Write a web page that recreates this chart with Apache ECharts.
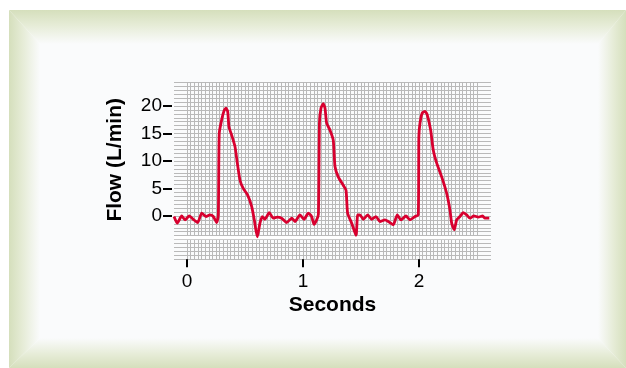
<!DOCTYPE html>
<html>
<head>
<meta charset="utf-8">
<script src="https://cdn.jsdelivr.net/npm/echarts@6/dist/echarts.min.js"></script>
<style>
    html, body { margin: 0; padding: 0; background: #ffffff; }
    #chart { width: 626px; height: 368px; }
</style>
</head>
<body>
<div id="chart"></div>
<script>
// time in seconds, flow in L/min
let times = [
    -0.112, -0.084, -0.046, -0.017, 0.020, 0.054, 0.092, 0.127, 0.164, 0.198,
    0.227, 0.256, 0.270, 0.278, 0.299, 0.319, 0.336, 0.351, 0.362, 0.385,
    0.414, 0.434, 0.457, 0.485, 0.523, 0.558, 0.580, 0.606, 0.629, 0.649,
    0.672, 0.709, 0.744, 0.778, 0.816, 0.859, 0.903, 0.931, 0.974, 1.009,
    1.046, 1.075, 1.095, 1.118, 1.133, 1.142, 1.155, 1.175, 1.190, 1.204,
    1.233, 1.261, 1.276, 1.304, 1.347, 1.371, 1.385, 1.420, 1.457, 1.472,
    1.491, 1.520, 1.558, 1.592, 1.629, 1.664, 1.707, 1.735, 1.778, 1.813,
    1.845, 1.888, 1.922, 1.966, 1.994, 1.999, 2.009, 2.028, 2.052, 2.071,
    2.101, 2.123, 2.153, 2.196, 2.239, 2.267, 2.282, 2.304, 2.325, 2.353,
    2.382, 2.411, 2.440, 2.474, 2.511, 2.549, 2.569, 2.606
];
let flows = [
    -0.1, -1.3, 0.0, -0.7, 0.0, -0.6, -1.2, 0.5, -0.1, 0.2,
    -0.1, -1.2, 0.2, 15.0, 17.5, 19.1, 19.6, 19.0, 16.2, 14.7,
    12.6, 9.6, 6.5, 5.0, 3.8, 1.7, -0.7, -3.8, -1.3, -0.1,
    -0.6, 0.6, -0.4, -0.2, -0.4, -1.2, -0.4, -1.0, 0.2, -0.6,
    0.5, -0.1, -1.5, -0.7, 0.3, 17.0, 19.6, 20.4, 19.6, 16.9,
    15.6, 13.8, 9.0, 7.1, 5.6, 4.7, 0.5, -1.3, -3.5, 0.2,
    0.2, -0.6, 0.2, -0.6, -0.1, -1.0, -0.7, -1.0, -1.6, 0.2,
    -0.7, 0.0, -0.7, -0.1, 0.2, 14.4, 16.9, 18.7, 19.0, 18.4,
    15.6, 12.0, 9.6, 7.1, 4.1, 1.1, -1.3, -2.5, -0.7, -0.1,
    0.6, 0.2, -0.4, 0.0, -0.2, 0.0, -0.4, -0.4
];
let xTickLabels = [0, 1, 2];
let yTickLabels = [0, 5, 10, 15, 20];

let lineColor = '#d8002f';
let gridColor = '#b9b9b9';
let frameGreen = '#d5dfbc';
let frameWhite = '#fafbfc';

function buildPoints() {
    let points = [];
    for (let i = 0; i < times.length; i++) {
        points.push([times[i], flows[i]]);
    }
    return points;
}

function frameSide(points, x1, y1, x2, y2) {
    return {
        type: 'polygon',
        z: -10,
        silent: true,
        shape: {points: points},
        style: {
            fill: new echarts.graphic.LinearGradient(x1, y1, x2, y2, [
                {offset: 0, color: frameGreen},
                {offset: 0.45, color: '#e6ecd7'},
                {offset: 1, color: frameWhite}
            ])
        }
    };
}

let chart = echarts.init(document.getElementById('chart'));

let option = {
    animation: false,
    backgroundColor: '#ffffff',
    textStyle: {fontFamily: 'Liberation Sans'},
    graphic: [
        {type: 'rect', z: -11, silent: true, shape: {x: 9, y: 10, width: 617, height: 358}, style: {fill: frameWhite}},
        frameSide([[9, 10], [626, 10], [598, 44], [40, 44]], 0, 0, 0, 1),
        frameSide([[9, 368], [626, 368], [598, 338], [40, 338]], 0, 1, 0, 0),
        frameSide([[9, 10], [40, 44], [40, 338], [9, 368]], 0, 0, 1, 0),
        frameSide([[626, 10], [598, 44], [598, 338], [626, 368]], 1, 0, 0, 0)
    ],
    grid: [
        {left: 174, top: 82.4, width: 317, height: 176.8},
        {left: 187, top: 82.4, width: 290, height: 176.8}
    ],
    xAxis: [
        {
            type: 'value',
            gridIndex: 0,
            min: -0.112,
            max: 2.621,
            name: 'Seconds',
            nameLocation: 'middle',
            nameGap: 36,
            nameTextStyle: {fontSize: 21, fontWeight: 'bold', color: '#000'},
            axisLine: {show: false, onZero: false},
            splitLine: {show: false},
            axisTick: {
                show: true,
                customValues: xTickLabels,
                length: 8,
                lineStyle: {color: '#000', width: 2}
            },
            axisLabel: {
                customValues: xTickLabels,
                fontSize: 19,
                color: '#000',
                margin: 13
            }
        },
        {
            type: 'value',
            gridIndex: 1,
            min: 0,
            max: 2.5,
            interval: 0.03125,
            axisLine: {show: false, onZero: false},
            axisTick: {show: false},
            axisLabel: {show: false},
            splitLine: {show: true, lineStyle: {color: gridColor, width: 1}}
        }
    ],
    yAxis: [
        {
            type: 'value',
            gridIndex: 0,
            min: -55 / 7,
            max: 170 / 7,
            offset: 2,
            name: 'Flow (L/min)',
            nameLocation: 'middle',
            nameGap: 46,
            nameTextStyle: {fontSize: 21, fontWeight: 'bold', color: '#000', padding: [0, 0, 0, 22]},
            axisLine: {show: false, onZero: false},
            splitLine: {show: false},
            axisTick: {
                show: true,
                customValues: yTickLabels,
                length: 9,
                lineStyle: {color: '#000', width: 2}
            },
            axisLabel: {
                customValues: yTickLabels,
                fontSize: 19,
                color: '#000',
                margin: 10
            }
        },
        {
            type: 'value',
            gridIndex: 0,
            position: 'left',
            min: -55 / 7,
            max: 170 / 7,
            interval: 5 / 7,
            axisLine: {show: false, onZero: false},
            axisTick: {show: false},
            axisLabel: {show: false},
            splitLine: {show: true, lineStyle: {color: gridColor, width: 1}}
        },
        {
            type: 'value',
            gridIndex: 1,
            min: 0,
            max: 1,
            show: false,
            splitLine: {show: false}
        }
    ],
    series: [
        {
            // white break band across the lower part of the grid
            name: 'break',
            type: 'line',
            xAxisIndex: 0,
            yAxisIndex: 0,
            z: 1,
            data: [],
            silent: true,
            markArea: {
                silent: true,
                itemStyle: {color: '#ffffff'},
                data: [[{coord: [-0.112, -3.63]}, {coord: [2.621, -4.22]}]]
            }
        },
        {
            name: 'Flow',
            type: 'line',
            xAxisIndex: 0,
            yAxisIndex: 0,
            z: 3,
            data: buildPoints(),
            smooth: 0.2,
            showSymbol: false,
            lineStyle: {color: lineColor, width: 2.8}
        }
    ]
};

chart.setOption(option);
</script>
</body>
</html>
